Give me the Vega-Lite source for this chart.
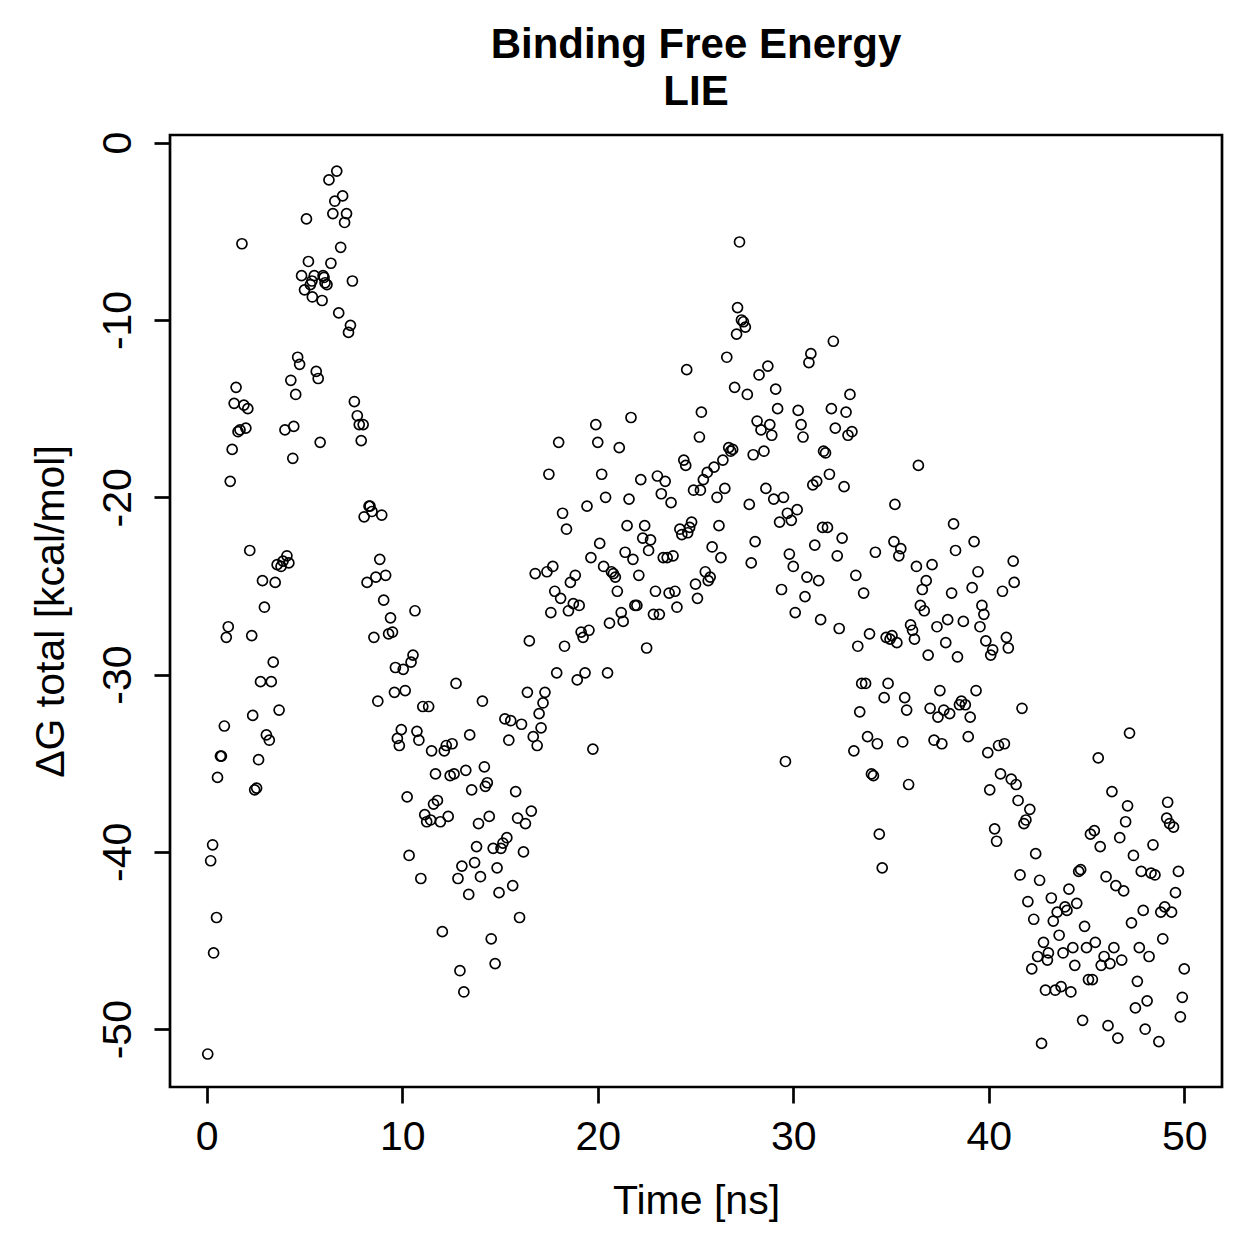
{
  "$schema": "https://vega.github.io/schema/vega-lite/v6.json",
  "autosize": "none",
  "width": 1052,
  "height": 952,
  "padding": {"left": 170, "top": 135, "right": 37, "bottom": 172},
  "background": "white",
  "config": {
    "font": "Liberation Sans",
    "view": {"stroke": "black", "strokeWidth": 2.7}
  },
  "title": {
    "text": ["Binding Free Energy", "LIE"],
    "font": "Liberation Sans",
    "fontSize": 42,
    "fontWeight": "bold",
    "color": "black",
    "anchor": "middle",
    "frame": "group",
    "lineHeight": 47,
    "offset": 17
  },
  "data": {"values": [
{"t":0.05,"g":-51.4},{"t":0.2,"g":-40.5},{"t":0.3,"g":-39.6},{"t":0.35,"g":-45.7},{"t":0.5,"g":-43.7},{"t":0.55,"g":-35.8},{"t":0.7,"g":-34.6},{"t":0.75,"g":-34.6},{"t":0.9,"g":-32.9},{"t":1.0,"g":-27.9},
{"t":1.1,"g":-27.3},{"t":1.2,"g":-19.1},{"t":1.3,"g":-17.3},{"t":1.4,"g":-14.7},{"t":1.5,"g":-13.8},{"t":1.6,"g":-16.3},{"t":1.7,"g":-16.2},{"t":1.8,"g":-5.7},{"t":1.9,"g":-14.8},{"t":2.0,"g":-16.1},
{"t":2.1,"g":-15.0},{"t":2.2,"g":-23.0},{"t":2.3,"g":-27.8},{"t":2.35,"g":-32.3},{"t":2.45,"g":-36.5},{"t":2.55,"g":-36.4},{"t":2.65,"g":-34.8},{"t":2.75,"g":-30.4},{"t":2.85,"g":-24.7},{"t":2.95,"g":-26.2},
{"t":3.05,"g":-33.4},{"t":3.2,"g":-33.7},{"t":3.3,"g":-30.4},{"t":3.4,"g":-29.3},{"t":3.5,"g":-24.8},{"t":3.6,"g":-23.8},{"t":3.7,"g":-32.0},{"t":3.8,"g":-23.9},{"t":3.9,"g":-23.6},{"t":4.0,"g":-16.2},
{"t":4.1,"g":-23.3},{"t":4.2,"g":-23.7},{"t":4.3,"g":-13.4},{"t":4.4,"g":-17.8},{"t":4.45,"g":-16.0},{"t":4.55,"g":-14.2},{"t":4.65,"g":-12.1},{"t":4.75,"g":-12.5},{"t":4.85,"g":-7.5},{"t":5.0,"g":-8.3},
{"t":5.1,"g":-4.3},{"t":5.2,"g":-6.7},{"t":5.3,"g":-8.0},{"t":5.38,"g":-7.8},{"t":5.4,"g":-8.7},{"t":5.5,"g":-7.5},{"t":5.6,"g":-12.9},{"t":5.7,"g":-13.3},{"t":5.8,"g":-16.9},{"t":5.9,"g":-8.9},
{"t":5.95,"g":-7.5},{"t":6.0,"g":-7.6},{"t":6.05,"g":-7.9},{"t":6.15,"g":-8.0},{"t":6.25,"g":-2.1},{"t":6.35,"g":-6.8},{"t":6.45,"g":-4.0},{"t":6.55,"g":-3.3},{"t":6.65,"g":-1.6},{"t":6.75,"g":-9.6},
{"t":6.85,"g":-5.9},{"t":6.95,"g":-3.0},{"t":7.05,"g":-4.5},{"t":7.15,"g":-4.0},{"t":7.25,"g":-10.7},{"t":7.35,"g":-10.3},{"t":7.45,"g":-7.8},{"t":7.55,"g":-14.6},{"t":7.7,"g":-15.4},{"t":7.8,"g":-15.9},
{"t":7.9,"g":-16.8},{"t":8.0,"g":-15.9},{"t":8.05,"g":-21.1},{"t":8.2,"g":-24.8},{"t":8.3,"g":-20.5},{"t":8.35,"g":-20.5},{"t":8.45,"g":-20.8},{"t":8.55,"g":-27.9},{"t":8.65,"g":-24.5},{"t":8.75,"g":-31.5},
{"t":8.85,"g":-23.5},{"t":8.95,"g":-21.0},{"t":9.05,"g":-25.8},{"t":9.15,"g":-24.4},{"t":9.3,"g":-27.7},{"t":9.4,"g":-26.8},{"t":9.5,"g":-27.6},{"t":9.6,"g":-31.0},{"t":9.65,"g":-29.6},{"t":9.75,"g":-33.6},
{"t":9.85,"g":-34.0},{"t":9.95,"g":-33.1},{"t":10.05,"g":-29.7},{"t":10.15,"g":-30.9},{"t":10.25,"g":-36.9},{"t":10.35,"g":-40.2},{"t":10.45,"g":-29.3},{"t":10.55,"g":-28.9},{"t":10.65,"g":-26.4},{"t":10.75,"g":-33.2},
{"t":10.85,"g":-33.7},{"t":10.95,"g":-41.5},{"t":11.05,"g":-31.8},{"t":11.15,"g":-37.9},{"t":11.25,"g":-38.3},{"t":11.35,"g":-31.8},{"t":11.45,"g":-38.2},{"t":11.5,"g":-34.3},{"t":11.6,"g":-37.3},{"t":11.7,"g":-35.6},
{"t":11.8,"g":-37.1},{"t":11.95,"g":-38.3},{"t":12.05,"g":-44.5},{"t":12.15,"g":-34.3},{"t":12.25,"g":-34.0},{"t":12.35,"g":-38.0},{"t":12.45,"g":-35.7},{"t":12.55,"g":-33.9},{"t":12.65,"g":-35.6},{"t":12.75,"g":-30.5},
{"t":12.85,"g":-41.5},{"t":12.95,"g":-46.7},{"t":13.05,"g":-40.8},{"t":13.15,"g":-47.9},{"t":13.25,"g":-35.4},{"t":13.4,"g":-42.4},{"t":13.45,"g":-33.4},{"t":13.55,"g":-36.5},{"t":13.7,"g":-40.6},{"t":13.8,"g":-39.7},
{"t":13.9,"g":-38.4},{"t":14.0,"g":-41.4},{"t":14.1,"g":-31.5},{"t":14.2,"g":-35.2},{"t":14.25,"g":-36.3},{"t":14.35,"g":-36.1},{"t":14.45,"g":-38.0},{"t":14.55,"g":-44.9},{"t":14.65,"g":-39.8},{"t":14.75,"g":-46.3},
{"t":14.85,"g":-40.9},{"t":14.95,"g":-42.3},{"t":15.05,"g":-39.8},{"t":15.15,"g":-39.5},{"t":15.25,"g":-32.5},{"t":15.35,"g":-39.2},{"t":15.45,"g":-33.7},{"t":15.55,"g":-32.6},{"t":15.65,"g":-41.9},{"t":15.8,"g":-36.6},
{"t":15.9,"g":-38.1},{"t":16.0,"g":-43.7},{"t":16.1,"g":-32.8},{"t":16.2,"g":-40.0},{"t":16.3,"g":-38.4},{"t":16.4,"g":-31.0},{"t":16.5,"g":-28.1},{"t":16.6,"g":-37.7},{"t":16.7,"g":-33.5},{"t":16.8,"g":-24.3},
{"t":16.9,"g":-34.0},{"t":17.0,"g":-32.2},{"t":17.1,"g":-33.0},{"t":17.2,"g":-31.6},{"t":17.3,"g":-31.0},{"t":17.4,"g":-24.2},{"t":17.5,"g":-18.7},{"t":17.6,"g":-26.5},{"t":17.7,"g":-23.9},{"t":17.8,"g":-25.3},
{"t":17.9,"g":-29.9},{"t":18.0,"g":-16.9},{"t":18.1,"g":-25.7},{"t":18.2,"g":-20.9},{"t":18.3,"g":-28.4},{"t":18.4,"g":-21.8},{"t":18.5,"g":-26.4},{"t":18.6,"g":-24.8},{"t":18.75,"g":-26.0},{"t":18.85,"g":-24.4},
{"t":18.95,"g":-30.3},{"t":19.05,"g":-26.1},{"t":19.15,"g":-27.6},{"t":19.25,"g":-27.9},{"t":19.35,"g":-29.9},{"t":19.45,"g":-20.5},{"t":19.55,"g":-27.5},{"t":19.65,"g":-23.4},{"t":19.75,"g":-34.2},{"t":19.9,"g":-15.9},
{"t":20.0,"g":-16.9},{"t":20.1,"g":-22.6},{"t":20.2,"g":-18.7},{"t":20.3,"g":-23.9},{"t":20.4,"g":-20.0},{"t":20.5,"g":-29.9},{"t":20.6,"g":-27.1},{"t":20.7,"g":-24.2},{"t":20.8,"g":-24.3},{"t":20.9,"g":-24.5},
{"t":21.0,"g":-25.3},{"t":21.1,"g":-17.2},{"t":21.2,"g":-26.5},{"t":21.3,"g":-27.0},{"t":21.4,"g":-23.1},{"t":21.5,"g":-21.6},{"t":21.6,"g":-20.1},{"t":21.7,"g":-15.5},{"t":21.8,"g":-23.5},{"t":21.9,"g":-26.1},
{"t":22.0,"g":-26.1},{"t":22.1,"g":-24.4},{"t":22.2,"g":-19.0},{"t":22.3,"g":-22.3},{"t":22.4,"g":-21.6},{"t":22.5,"g":-28.5},{"t":22.6,"g":-23.0},{"t":22.7,"g":-22.4},{"t":22.85,"g":-26.6},{"t":22.95,"g":-25.3},
{"t":23.05,"g":-18.8},{"t":23.15,"g":-26.6},{"t":23.25,"g":-19.8},{"t":23.35,"g":-23.4},{"t":23.45,"g":-19.1},{"t":23.55,"g":-23.4},{"t":23.65,"g":-25.4},{"t":23.75,"g":-20.3},{"t":23.85,"g":-23.3},{"t":23.95,"g":-25.3},
{"t":24.05,"g":-26.2},{"t":24.2,"g":-21.8},{"t":24.3,"g":-22.1},{"t":24.4,"g":-17.9},{"t":24.5,"g":-18.2},{"t":24.55,"g":-12.8},{"t":24.6,"g":-22.0},{"t":24.7,"g":-21.7},{"t":24.8,"g":-21.4},{"t":24.9,"g":-19.6},
{"t":25.0,"g":-24.9},{"t":25.1,"g":-25.7},{"t":25.2,"g":-16.6},{"t":25.25,"g":-19.6},{"t":25.3,"g":-15.2},{"t":25.4,"g":-19.0},{"t":25.5,"g":-24.2},{"t":25.6,"g":-18.6},{"t":25.65,"g":-24.7},{"t":25.75,"g":-24.5},
{"t":25.85,"g":-22.8},{"t":25.95,"g":-18.3},{"t":26.1,"g":-20.0},{"t":26.2,"g":-21.6},{"t":26.3,"g":-23.4},{"t":26.4,"g":-17.9},{"t":26.5,"g":-19.5},{"t":26.6,"g":-12.1},{"t":26.7,"g":-17.2},{"t":26.8,"g":-17.4},
{"t":26.9,"g":-17.3},{"t":27.0,"g":-13.8},{"t":27.1,"g":-10.8},{"t":27.15,"g":-9.3},{"t":27.25,"g":-5.6},{"t":27.35,"g":-10.0},{"t":27.45,"g":-10.1},{"t":27.55,"g":-10.4},{"t":27.65,"g":-14.2},{"t":27.75,"g":-20.4},
{"t":27.85,"g":-23.7},{"t":27.95,"g":-17.6},{"t":28.05,"g":-22.5},{"t":28.15,"g":-15.7},{"t":28.25,"g":-13.1},{"t":28.35,"g":-16.2},{"t":28.5,"g":-17.4},{"t":28.6,"g":-19.5},{"t":28.7,"g":-12.6},{"t":28.8,"g":-15.9},
{"t":28.9,"g":-16.5},{"t":29.0,"g":-20.1},{"t":29.1,"g":-13.9},{"t":29.2,"g":-15.0},{"t":29.3,"g":-21.4},{"t":29.4,"g":-25.2},{"t":29.5,"g":-20.0},{"t":29.6,"g":-34.9},{"t":29.7,"g":-20.9},{"t":29.8,"g":-23.2},
{"t":29.9,"g":-21.3},{"t":30.0,"g":-23.9},{"t":30.1,"g":-26.5},{"t":30.2,"g":-20.7},{"t":30.25,"g":-15.1},{"t":30.4,"g":-15.9},{"t":30.5,"g":-16.6},{"t":30.6,"g":-25.6},{"t":30.7,"g":-24.5},{"t":30.8,"g":-12.4},
{"t":30.9,"g":-11.9},{"t":31.0,"g":-19.3},{"t":31.1,"g":-22.7},{"t":31.2,"g":-19.1},{"t":31.3,"g":-24.7},{"t":31.4,"g":-26.9},{"t":31.5,"g":-21.7},{"t":31.55,"g":-17.4},{"t":31.65,"g":-17.5},{"t":31.75,"g":-21.7},
{"t":31.85,"g":-18.7},{"t":31.95,"g":-15.0},{"t":32.05,"g":-11.2},{"t":32.15,"g":-16.1},{"t":32.25,"g":-23.3},{"t":32.35,"g":-27.4},{"t":32.5,"g":-22.3},{"t":32.6,"g":-19.4},{"t":32.7,"g":-15.2},{"t":32.8,"g":-16.5},
{"t":32.9,"g":-14.2},{"t":33.0,"g":-16.3},{"t":33.1,"g":-34.3},{"t":33.2,"g":-24.4},{"t":33.3,"g":-28.4},{"t":33.4,"g":-32.1},{"t":33.5,"g":-30.5},{"t":33.6,"g":-25.4},{"t":33.7,"g":-30.5},{"t":33.8,"g":-33.5},
{"t":33.9,"g":-27.7},{"t":34.0,"g":-35.6},{"t":34.1,"g":-35.7},{"t":34.2,"g":-23.1},{"t":34.3,"g":-33.9},{"t":34.4,"g":-39.0},{"t":34.55,"g":-40.9},{"t":34.65,"g":-31.3},{"t":34.75,"g":-27.9},{"t":34.85,"g":-30.5},
{"t":34.95,"g":-28.0},{"t":35.05,"g":-27.8},{"t":35.15,"g":-22.5},{"t":35.2,"g":-20.4},{"t":35.3,"g":-28.2},{"t":35.4,"g":-23.3},{"t":35.5,"g":-22.9},{"t":35.6,"g":-33.8},{"t":35.7,"g":-31.3},{"t":35.8,"g":-32.0},
{"t":35.9,"g":-36.2},{"t":36.0,"g":-27.2},{"t":36.1,"g":-27.5},{"t":36.2,"g":-28.0},{"t":36.3,"g":-23.9},{"t":36.4,"g":-18.2},{"t":36.5,"g":-26.1},{"t":36.6,"g":-25.2},{"t":36.7,"g":-26.4},{"t":36.8,"g":-24.7},
{"t":36.9,"g":-28.9},{"t":37.0,"g":-31.9},{"t":37.1,"g":-23.8},{"t":37.2,"g":-33.7},{"t":37.35,"g":-27.3},{"t":37.4,"g":-32.4},{"t":37.5,"g":-30.9},{"t":37.6,"g":-33.9},{"t":37.7,"g":-32.0},{"t":37.8,"g":-28.2},
{"t":37.9,"g":-26.9},{"t":38.0,"g":-32.2},{"t":38.1,"g":-25.4},{"t":38.2,"g":-21.5},{"t":38.3,"g":-23.0},{"t":38.4,"g":-29.0},{"t":38.5,"g":-31.7},{"t":38.6,"g":-31.5},{"t":38.7,"g":-27.0},{"t":38.8,"g":-31.7},
{"t":38.95,"g":-33.5},{"t":39.05,"g":-32.4},{"t":39.15,"g":-25.1},{"t":39.25,"g":-22.5},{"t":39.35,"g":-30.9},{"t":39.45,"g":-24.2},{"t":39.55,"g":-27.3},{"t":39.65,"g":-26.1},{"t":39.75,"g":-26.6},{"t":39.85,"g":-28.1},
{"t":39.95,"g":-34.4},{"t":40.05,"g":-36.5},{"t":40.1,"g":-28.9},{"t":40.2,"g":-28.6},{"t":40.3,"g":-38.7},{"t":40.4,"g":-39.4},{"t":40.5,"g":-34.0},{"t":40.6,"g":-35.6},{"t":40.7,"g":-25.3},{"t":40.8,"g":-33.9},
{"t":40.9,"g":-27.9},{"t":41.0,"g":-28.5},{"t":41.15,"g":-35.9},{"t":41.25,"g":-23.6},{"t":41.3,"g":-24.8},{"t":41.4,"g":-36.2},{"t":41.5,"g":-37.1},{"t":41.6,"g":-41.3},{"t":41.7,"g":-31.9},{"t":41.8,"g":-38.4},
{"t":41.9,"g":-38.2},{"t":42.0,"g":-42.8},{"t":42.1,"g":-37.6},{"t":42.2,"g":-46.6},{"t":42.3,"g":-43.8},{"t":42.4,"g":-40.1},{"t":42.5,"g":-45.9},{"t":42.6,"g":-41.6},{"t":42.7,"g":-50.8},{"t":42.8,"g":-45.1},
{"t":42.9,"g":-47.8},{"t":43.0,"g":-46.1},{"t":43.05,"g":-45.7},{"t":43.2,"g":-42.6},{"t":43.3,"g":-43.9},{"t":43.4,"g":-47.8},{"t":43.5,"g":-43.4},{"t":43.6,"g":-44.7},{"t":43.7,"g":-47.6},{"t":43.8,"g":-45.7},
{"t":43.9,"g":-43.1},{"t":44.0,"g":-43.3},{"t":44.1,"g":-42.1},{"t":44.2,"g":-47.9},{"t":44.3,"g":-45.4},{"t":44.4,"g":-46.4},{"t":44.5,"g":-42.9},{"t":44.6,"g":-41.1},{"t":44.7,"g":-41.0},{"t":44.8,"g":-49.5},
{"t":44.9,"g":-44.2},{"t":45.0,"g":-45.4},{"t":45.1,"g":-47.2},{"t":45.2,"g":-39.0},{"t":45.3,"g":-47.2},{"t":45.4,"g":-38.8},{"t":45.45,"g":-45.1},{"t":45.6,"g":-34.7},{"t":45.7,"g":-39.7},{"t":45.75,"g":-46.4},
{"t":45.9,"g":-45.9},{"t":46.0,"g":-41.4},{"t":46.1,"g":-49.8},{"t":46.2,"g":-46.3},{"t":46.3,"g":-36.6},{"t":46.4,"g":-45.4},{"t":46.5,"g":-41.9},{"t":46.6,"g":-50.5},{"t":46.7,"g":-39.2},{"t":46.8,"g":-46.1},
{"t":46.9,"g":-42.2},{"t":47.0,"g":-38.3},{"t":47.1,"g":-37.4},{"t":47.2,"g":-33.3},{"t":47.3,"g":-44.0},{"t":47.4,"g":-40.2},{"t":47.5,"g":-48.8},{"t":47.6,"g":-47.3},{"t":47.7,"g":-45.4},{"t":47.8,"g":-41.1},
{"t":47.9,"g":-43.3},{"t":48.0,"g":-50.0},{"t":48.1,"g":-48.4},{"t":48.2,"g":-45.9},{"t":48.3,"g":-41.2},{"t":48.4,"g":-39.6},{"t":48.5,"g":-41.3},{"t":48.7,"g":-50.7},{"t":48.8,"g":-43.4},{"t":48.9,"g":-44.9},
{"t":49.0,"g":-43.1},{"t":49.1,"g":-38.1},{"t":49.15,"g":-37.2},{"t":49.25,"g":-38.4},{"t":49.35,"g":-43.4},{"t":49.45,"g":-38.6},{"t":49.55,"g":-42.3},{"t":49.7,"g":-41.1},{"t":49.8,"g":-49.3},{"t":49.9,"g":-48.2},
{"t":50.0,"g":-46.6}
  ]},
  "mark": {"type": "point", "shape": "circle", "filled": false, "stroke": "black", "strokeWidth": 1.7, "size": 100, "opacity": 1},
  "encoding": {
    "x": {
      "field": "t", "type": "quantitative",
      "scale": {"domain": [-1.88, 51.93], "nice": false, "zero": false},
      "axis": {
        "title": "Time [ns]",
        "values": [0, 10, 20, 30, 40, 50],
        "labelExpr": "'' + datum.value",
        "grid": false, "domain": false,
        "ticks": true, "tickSize": 16, "tickWidth": 2.7, "tickColor": "black",
        "labelFont": "Liberation Sans", "labelFontSize": 41, "labelColor": "black",
        "labelBaseline": "alphabetic", "labelPadding": 46, "labelFlush": false,
        "titleFont": "Liberation Sans", "titleFontSize": 41, "titleFontWeight": "normal", "titleColor": "black",
        "titleBaseline": "alphabetic", "titleX": 526, "titleY": 126, "titleAnchor": "middle", "titleAlign": "center"
      }
    },
    "y": {
      "field": "g", "type": "quantitative",
      "scale": {"domain": [-53.26, 0.434], "nice": false, "zero": false},
      "axis": {
        "title": "ΔG total [kcal/mol]",
        "values": [0, -10, -20, -30, -40, -50],
        "labelExpr": "'' + datum.value",
        "grid": false, "domain": false,
        "ticks": true, "tickSize": 16, "tickWidth": 2.7, "tickColor": "black",
        "labelFont": "Liberation Sans", "labelFontSize": 41, "labelColor": "black",
        "labelAngle": -90, "labelAlign": "center", "labelBaseline": "alphabetic", "labelPadding": 24, "labelFlush": false,
        "titleFont": "Liberation Sans", "titleFontSize": 41, "titleFontWeight": "normal", "titleColor": "black",
        "titleAngle": -90, "titleBaseline": "alphabetic", "titleAlign": "center", "titleX": -107, "titleY": 476
      }
    }
  }
}
